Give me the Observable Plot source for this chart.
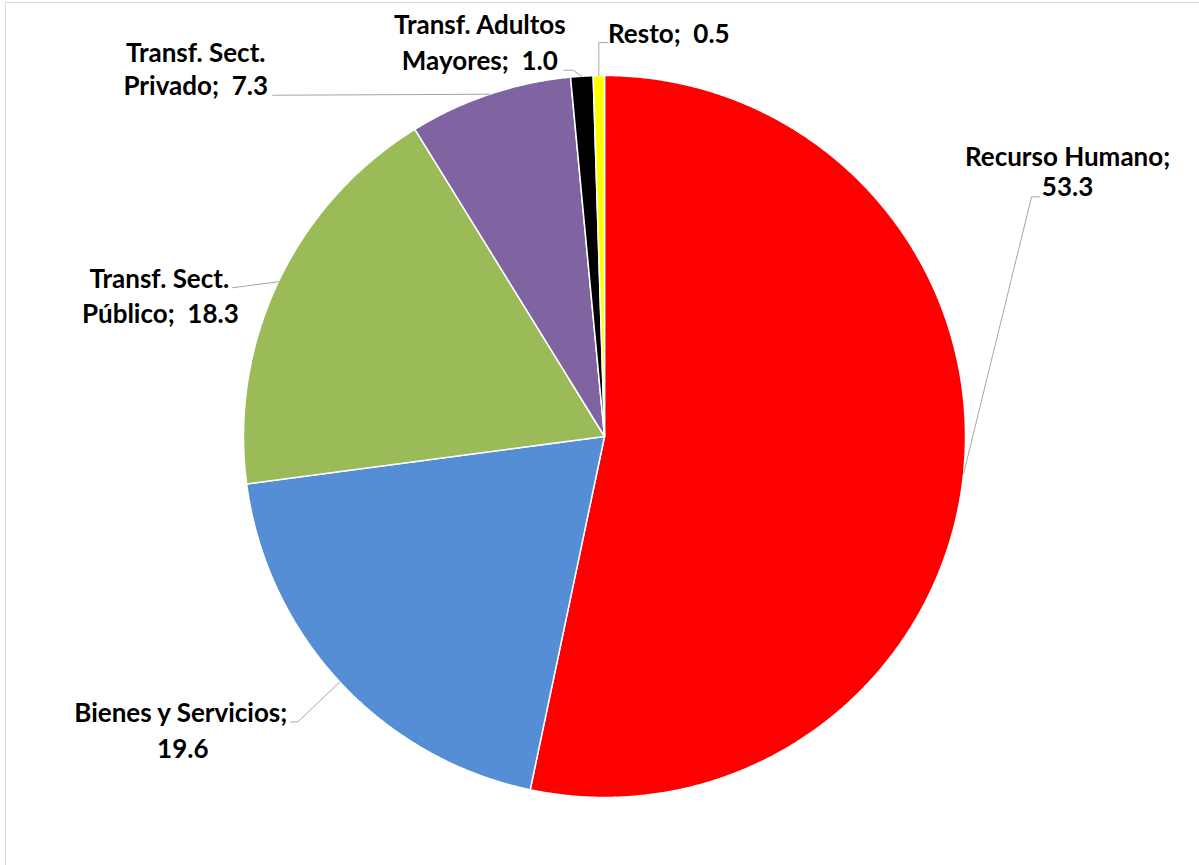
<!DOCTYPE html>
<html>
<head>
<meta charset="utf-8">
<script src="https://cdn.jsdelivr.net/npm/d3@7"></script>
<script src="https://cdn.jsdelivr.net/npm/@observablehq/plot@0.6"></script>
<style>
  html, body { margin: 0; padding: 0; background: #fff; }
  #wrap { position: relative; width: 1199px; height: 865px; overflow: hidden; }
  #frame { position: absolute; left: 5px; top: 2px; width: 1300px; height: 1000px; border: 1px solid #d9d9d9; box-sizing: border-box; }
  #chart { position: absolute; left: 0; top: 0; }
</style>
</head>
<body>
<div id="wrap"><div id="frame"></div><div id="chart"></div></div>
<script>
// ---- data ----
const categories = ["Recurso Humano", "Bienes y Servicios", "Transf. Sect.\nPúblico", "Transf. Sect.\nPrivado", "Transf. Adultos\nMayores", "Resto"];
const values = [53.3, 19.6, 18.3, 7.3, 1.0, 0.5];
const colors = ["#FF0000", "#558ED5", "#9BBB59", "#8064A2", "#000000", "#FFFF00"];

// ---- layout (pixels) ----
const W = 1199, H = 865;
const cx = 604, cy = 436, R = 361;
// value on own line?
const valueOwnLine = [true, true, false, false, false, false];
// offsets relative to slice anchor point on the rim: leader elbow, leader end, text line centers (baseline)
const labelLayout = [
  {elbow: [68, -277], end: [76, -277], lines: [[104, -308], [104, -278]]},
  {elbow: [-42, 40], end: [-49, 40], lines: [[-159, 40], [-157, 76]]},
  {elbow: [-46, 6], end: [-46, 6], lines: [[-119, 6], [-118, 41]]},
  {elbow: [-217, 1], end: [-217, 1], lines: [[-294, -32], [-294, 1]]},
  {elbow: [-9, -6], end: [-18, -6], lines: [[-102, -42], [-102, -6]]},
  {elbow: [0, -33], end: [9, -33], lines: [[70, -33]]}
];

// ---- geometry ----
const total = d3.sum(values);
const slices = [];
const leaders = [];
const texts = [];
let acc = 0;
const pt = (a, r) => [cx + r * Math.sin(a), cy - r * Math.cos(a)];
values.forEach((v, i) => {
  const a0 = acc / total * 2 * Math.PI;
  acc += v;
  const a1 = acc / total * 2 * Math.PI;
  const name = categories[i];
  const n = Math.max(2, Math.ceil((a1 - a0) / 0.005));
  slices.push({name, color: colors[i], x: cx, y: cy});
  for (let k = 0; k <= n; k++) {
    const [x, y] = pt(a0 + (a1 - a0) * k / n, R);
    slices.push({name, color: colors[i], x, y});
  }
  slices.push({name, color: colors[i], x: cx, y: cy});
  const am = (a0 + a1) / 2;
  const [ax, ay] = pt(am, R);
  const L = labelLayout[i];
  leaders.push({name, x: ax, y: ay});
  leaders.push({name, x: ax + L.elbow[0], y: ay + L.elbow[1]});
  leaders.push({name, x: ax + L.end[0], y: ay + L.end[1]});
  const valStr = v.toFixed(1);
  const parts = name.split("\n");
  let lines;
  if (valueOwnLine[i]) lines = [parts.join(" ") + ";", valStr];
  else {
    lines = parts.slice();
    lines[lines.length - 1] = lines[lines.length - 1] + ";\u00A0\u00A0" + valStr;
  }
  lines.forEach((t, j) => {
    texts.push({text: t, x: ax + L.lines[j][0], y: ay + L.lines[j][1]});
  });
});

const chart = Plot.plot({
  width: W,
  height: H,
  margin: 0,
  x: {domain: [0, W], range: [0, W], axis: null},
  y: {domain: [0, H], range: [0, H], axis: null},
  color: {type: "identity"},
  style: {background: "transparent"},
  marks: [
    Plot.line(slices, {x: "x", y: "y", z: "name", fill: "color", stroke: "white", strokeWidth: 1.5, curve: "linear"}),
    Plot.line(leaders, {x: "x", y: "y", z: "name", stroke: "#a6a6a6", strokeWidth: 1, curve: "linear"}),
    Plot.text(texts, {x: "x", y: "y", text: "text", textAnchor: "middle", lineAnchor: "bottom",
      fontFamily: "Lato", fontWeight: "bold", fontSize: 26, fill: "#000"})
  ]
});
document.getElementById("chart").appendChild(chart);
</script>
</body>
</html>
